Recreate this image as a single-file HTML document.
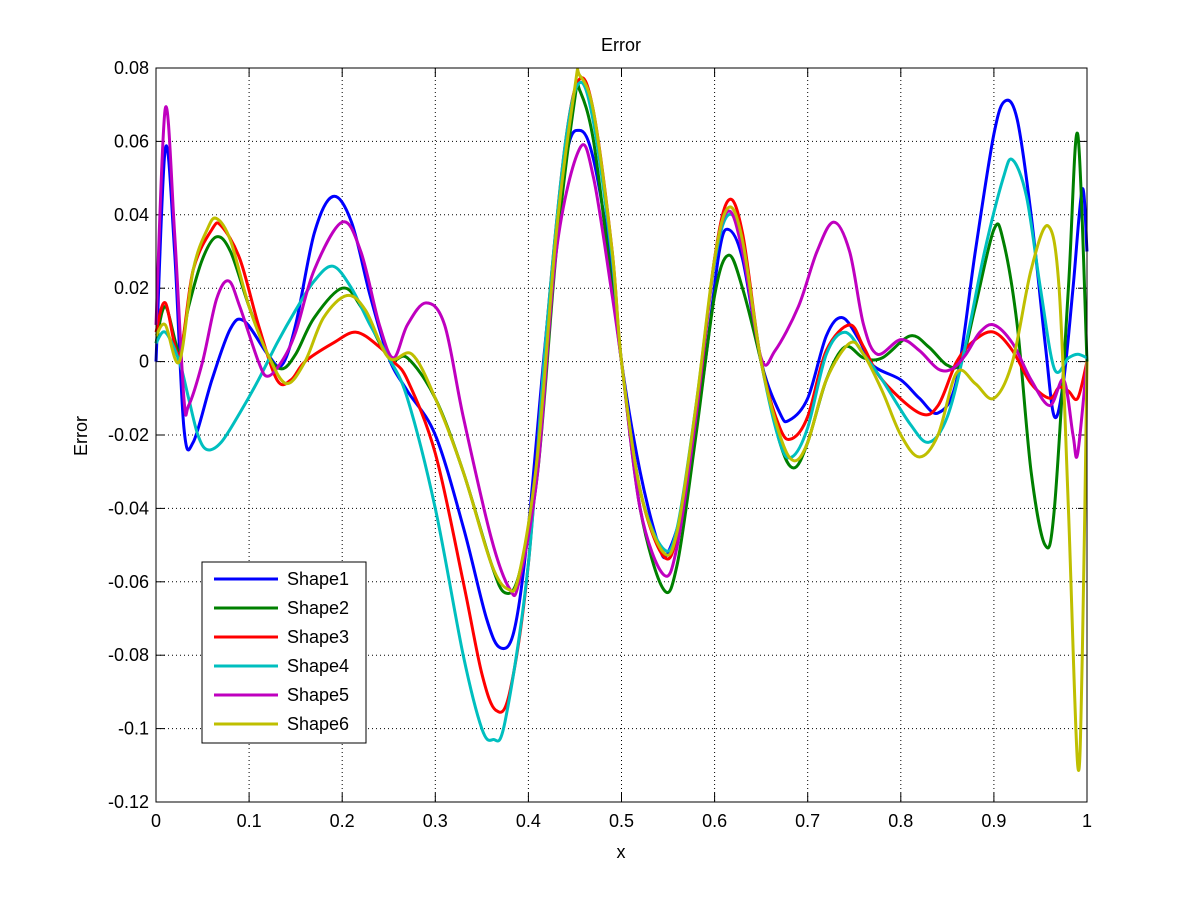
<!DOCTYPE html>
<html><head><meta charset="utf-8"><style>
html,body{margin:0;padding:0;background:#fff;}
svg{display:block;font-family:"Liberation Sans",sans-serif;}
</style></head><body>
<svg id="s" width="1201" height="901" viewBox="0 0 1201 901">
<rect x="0" y="0" width="1201" height="901" fill="#fff"/>
<g id="grid"></g>
<g id="series" fill="none" stroke-width="3" stroke-linejoin="round"></g>
<rect x="156" y="68" width="931" height="734" fill="none" stroke="#000" stroke-width="1"/>
<g id="ticks" font-size="18" fill="#000"></g>
<text x="621" y="51" font-size="18" text-anchor="middle">Error</text>
<text x="621" y="858" font-size="18" text-anchor="middle">x</text>
<text x="87" y="436" font-size="18" text-anchor="middle" transform="rotate(-90 87 436)">Error</text>
<g id="legend">
<rect x="202" y="562" width="164" height="181" fill="#fff" stroke="#000" stroke-width="1"/>
<g font-size="18" fill="#000">
<text x="287" y="585">Shape1</text><text x="287" y="614">Shape2</text><text x="287" y="643">Shape3</text>
<text x="287" y="672">Shape4</text><text x="287" y="701">Shape5</text><text x="287" y="730">Shape6</text>
</g>
<g stroke-width="3">
<line x1="214" x2="278" y1="579" y2="579" stroke="#0000ff"/>
<line x1="214" x2="278" y1="608" y2="608" stroke="#008000"/>
<line x1="214" x2="278" y1="637" y2="637" stroke="#ff0000"/>
<line x1="214" x2="278" y1="666" y2="666" stroke="#00bfbf"/>
<line x1="214" x2="278" y1="695" y2="695" stroke="#bf00bf"/>
<line x1="214" x2="278" y1="724" y2="724" stroke="#bfbf00"/>
</g>
</g>
</svg>
<script>
var NS="http://www.w3.org/2000/svg";
function X(v){return 156+v*931;}
function Y(v){return 68+(0.08-v)/0.2*734;}
function el(t,a,p){var e=document.createElementNS(NS,t);for(var k in a)e.setAttribute(k,a[k]);p.appendChild(e);return e;}
var g=document.getElementById("grid"),tk=document.getElementById("ticks");
for(var i=0;i<=10;i++){var x=X(i/10);
 if(i>0&&i<10)el("line",{x1:x,x2:x,y1:68,y2:802,stroke:"#000","stroke-dasharray":"1 3","stroke-width":1},g);
 el("line",{x1:x,x2:x,y1:802,y2:793,stroke:"#000"},g);el("line",{x1:x,x2:x,y1:68,y2:77,stroke:"#000"},g);
 var t=el("text",{x:x,y:827,"text-anchor":"middle"},tk);t.textContent=(i==0?"0":i==10?"1":(i/10).toFixed(1));}
for(var j=0;j<=10;j++){var v=0.08-j*0.02,y=Y(v);
 if(j>0&&j<10)el("line",{x1:156,x2:1087,y1:y,y2:y,stroke:"#000","stroke-dasharray":"1 3","stroke-width":1},g);
 el("line",{x1:156,x2:165,y1:y,y2:y,stroke:"#000"},g);el("line",{x1:1087,x2:1078,y1:y,y2:y,stroke:"#000"},g);
 var s=Math.abs(v)<1e-9?"0":(Math.round(v*100)/100).toString();
 var t=el("text",{x:149,y:y+6,"text-anchor":"end"},tk);t.textContent=s;}
var D=[
["#0000ff",[[0,0.0],[0.01,0.058],[0.02,0.03],[0.03,-0.018],[0.04,-0.022],[0.06,-0.005],[0.08,0.009],[0.095,0.011],[0.12,0.002],[0.135,-0.001],[0.15,0.01],[0.17,0.035],[0.19,0.045],[0.21,0.038],[0.23,0.018],[0.25,0.001],[0.27,-0.008],[0.3,-0.02],[0.33,-0.045],[0.355,-0.07],[0.37,-0.078],[0.385,-0.073],[0.4,-0.045],[0.42,0.01],[0.44,0.055],[0.455,0.063],[0.47,0.055],[0.49,0.025],[0.5,0.0],[0.52,-0.03],[0.54,-0.05],[0.55,-0.052],[0.57,-0.035],[0.59,0.0],[0.605,0.03],[0.615,0.036],[0.63,0.028],[0.65,0.0],[0.67,-0.014],[0.68,-0.016],[0.7,-0.01],[0.72,0.007],[0.737,0.012],[0.755,0.006],[0.77,-0.001],[0.8,-0.005],[0.82,-0.01],[0.84,-0.014],[0.86,-0.005],[0.88,0.03],[0.9,0.062],[0.912,0.071],[0.925,0.066],[0.94,0.04],[0.955,0.005],[0.965,-0.015],[0.975,-0.005],[0.985,0.02],[0.995,0.047],[1,0.03]]],
["#008000",[[0,0.005],[0.01,0.015],[0.025,0.003],[0.035,0.015],[0.05,0.028],[0.065,0.034],[0.08,0.03],[0.1,0.015],[0.12,0.002],[0.135,-0.002],[0.15,0.002],[0.17,0.012],[0.2,0.02],[0.22,0.015],[0.25,0.001],[0.27,0.001],[0.3,-0.01],[0.33,-0.03],[0.36,-0.055],[0.375,-0.063],[0.39,-0.058],[0.41,-0.03],[0.43,0.03],[0.45,0.072],[0.455,0.074],[0.47,0.06],[0.49,0.02],[0.5,0],[0.52,-0.04],[0.545,-0.062],[0.56,-0.055],[0.58,-0.02],[0.6,0.018],[0.615,0.029],[0.63,0.02],[0.65,0],[0.67,-0.022],[0.685,-0.029],[0.7,-0.022],[0.72,-0.005],[0.74,0.004],[0.76,0.001],[0.78,0.001],[0.81,0.007],[0.83,0.004],[0.85,-0.001],[0.865,0],[0.88,0.015],[0.9,0.036],[0.91,0.033],[0.925,0.01],[0.94,-0.03],[0.955,-0.05],[0.965,-0.04],[0.98,0.02],[0.99,0.062],[1,0.0]]],
["#ff0000",[[0,0.008],[0.01,0.016],[0.025,0.002],[0.04,0.025],[0.06,0.036],[0.07,0.037],[0.09,0.028],[0.11,0.01],[0.13,-0.005],[0.145,-0.005],[0.16,0.0],[0.19,0.005],[0.215,0.008],[0.24,0.004],[0.255,0],[0.27,-0.005],[0.3,-0.025],[0.33,-0.06],[0.35,-0.085],[0.365,-0.095],[0.38,-0.09],[0.4,-0.055],[0.42,0.01],[0.44,0.06],[0.455,0.077],[0.47,0.068],[0.49,0.03],[0.5,0],[0.52,-0.035],[0.545,-0.053],[0.56,-0.047],[0.58,-0.015],[0.6,0.028],[0.615,0.044],[0.63,0.035],[0.65,0],[0.67,-0.018],[0.683,-0.021],[0.7,-0.015],[0.72,0.003],[0.745,0.01],[0.76,0.004],[0.78,-0.005],[0.82,-0.014],[0.84,-0.012],[0.86,0],[0.88,0.006],[0.9,0.008],[0.92,0.003],[0.94,-0.006],[0.96,-0.01],[0.97,-0.007],[0.98,-0.008],[0.99,-0.01],[1,0.0]]],
["#00bfbf",[[0,0.005],[0.01,0.008],[0.025,0.0],[0.035,-0.01],[0.045,-0.02],[0.055,-0.024],[0.07,-0.022],[0.09,-0.014],[0.11,-0.005],[0.13,0.005],[0.15,0.014],[0.17,0.022],[0.19,0.026],[0.21,0.02],[0.23,0.01],[0.25,0.001],[0.27,-0.01],[0.3,-0.04],[0.33,-0.08],[0.35,-0.1],[0.362,-0.103],[0.375,-0.098],[0.4,-0.055],[0.42,0.01],[0.44,0.06],[0.455,0.076],[0.47,0.065],[0.49,0.028],[0.5,0],[0.52,-0.035],[0.545,-0.051],[0.56,-0.045],[0.58,-0.012],[0.6,0.027],[0.615,0.04],[0.63,0.032],[0.65,0],[0.67,-0.022],[0.683,-0.026],[0.7,-0.018],[0.72,0.002],[0.74,0.008],[0.76,0.002],[0.78,-0.005],[0.81,-0.017],[0.83,-0.022],[0.85,-0.015],[0.87,0.005],[0.89,0.03],[0.91,0.05],[0.92,0.055],[0.935,0.045],[0.95,0.02],[0.965,-0.002],[0.98,0.001],[0.99,0.002],[1,0.001]]],
["#bf00bf",[[0,0.01],[0.01,0.069],[0.02,0.035],[0.03,-0.01],[0.035,-0.012],[0.05,0.0],[0.065,0.017],[0.078,0.022],[0.09,0.015],[0.11,0.0],[0.12,-0.004],[0.135,0.0],[0.15,0.008],[0.17,0.025],[0.2,0.038],[0.22,0.03],[0.24,0.01],[0.255,0.001],[0.27,0.01],[0.29,0.016],[0.31,0.01],[0.33,-0.015],[0.36,-0.048],[0.38,-0.062],[0.39,-0.06],[0.41,-0.03],[0.43,0.03],[0.455,0.058],[0.47,0.05],[0.49,0.018],[0.5,0],[0.52,-0.04],[0.545,-0.058],[0.56,-0.05],[0.58,-0.015],[0.6,0.028],[0.615,0.041],[0.63,0.03],[0.65,0.001],[0.665,0.003],[0.69,0.015],[0.71,0.03],[0.728,0.038],[0.745,0.03],[0.76,0.01],[0.775,0.002],[0.8,0.006],[0.82,0.003],[0.84,-0.002],[0.855,-0.002],[0.87,0.002],[0.885,0.008],[0.9,0.01],[0.92,0.005],[0.94,-0.005],[0.96,-0.012],[0.975,-0.005],[0.985,-0.02],[0.99,-0.025],[1,0.0]]],
["#bfbf00",[[0,0.007],[0.01,0.01],[0.025,0.0],[0.04,0.025],[0.055,0.036],[0.065,0.039],[0.08,0.033],[0.1,0.015],[0.12,0.002],[0.14,-0.006],[0.16,0.0],[0.18,0.012],[0.205,0.018],[0.225,0.014],[0.25,0.001],[0.275,0.002],[0.3,-0.01],[0.33,-0.03],[0.36,-0.055],[0.378,-0.062],[0.39,-0.058],[0.41,-0.025],[0.43,0.035],[0.45,0.075],[0.455,0.078],[0.47,0.068],[0.49,0.03],[0.5,0],[0.52,-0.035],[0.545,-0.052],[0.56,-0.046],[0.58,-0.012],[0.6,0.028],[0.615,0.042],[0.63,0.033],[0.65,0],[0.67,-0.02],[0.685,-0.027],[0.7,-0.022],[0.72,-0.005],[0.745,0.005],[0.76,0.002],[0.78,-0.008],[0.8,-0.02],[0.82,-0.026],[0.84,-0.02],[0.86,-0.003],[0.88,-0.006],[0.9,-0.01],[0.92,0.0],[0.94,0.025],[0.958,0.037],[0.97,0.02],[0.98,-0.04],[0.99,-0.11],[0.995,-0.08],[1,0.0]]]
];
var sg=document.getElementById("series");
D.forEach(function(s){var p=s[1].map(function(q){return [X(q[0]),Y(q[1])];});
 var d="M"+p[0][0].toFixed(1)+","+p[0][1].toFixed(1);
 for(var i=0;i<p.length-1;i++){var p0=p[Math.max(i-1,0)],p1=p[i],p2=p[i+1],p3=p[Math.min(i+2,p.length-1)];
  var c1x=p1[0]+(p2[0]-p0[0])/6,c1y=p1[1]+(p2[1]-p0[1])/6,c2x=p2[0]-(p3[0]-p1[0])/6,c2y=p2[1]-(p3[1]-p1[1])/6;
  d+="C"+c1x.toFixed(1)+","+c1y.toFixed(1)+" "+c2x.toFixed(1)+","+c2y.toFixed(1)+" "+p2[0].toFixed(1)+","+p2[1].toFixed(1);}
 el("path",{d:d,stroke:s[0]},sg);});
</script>
</body></html>
